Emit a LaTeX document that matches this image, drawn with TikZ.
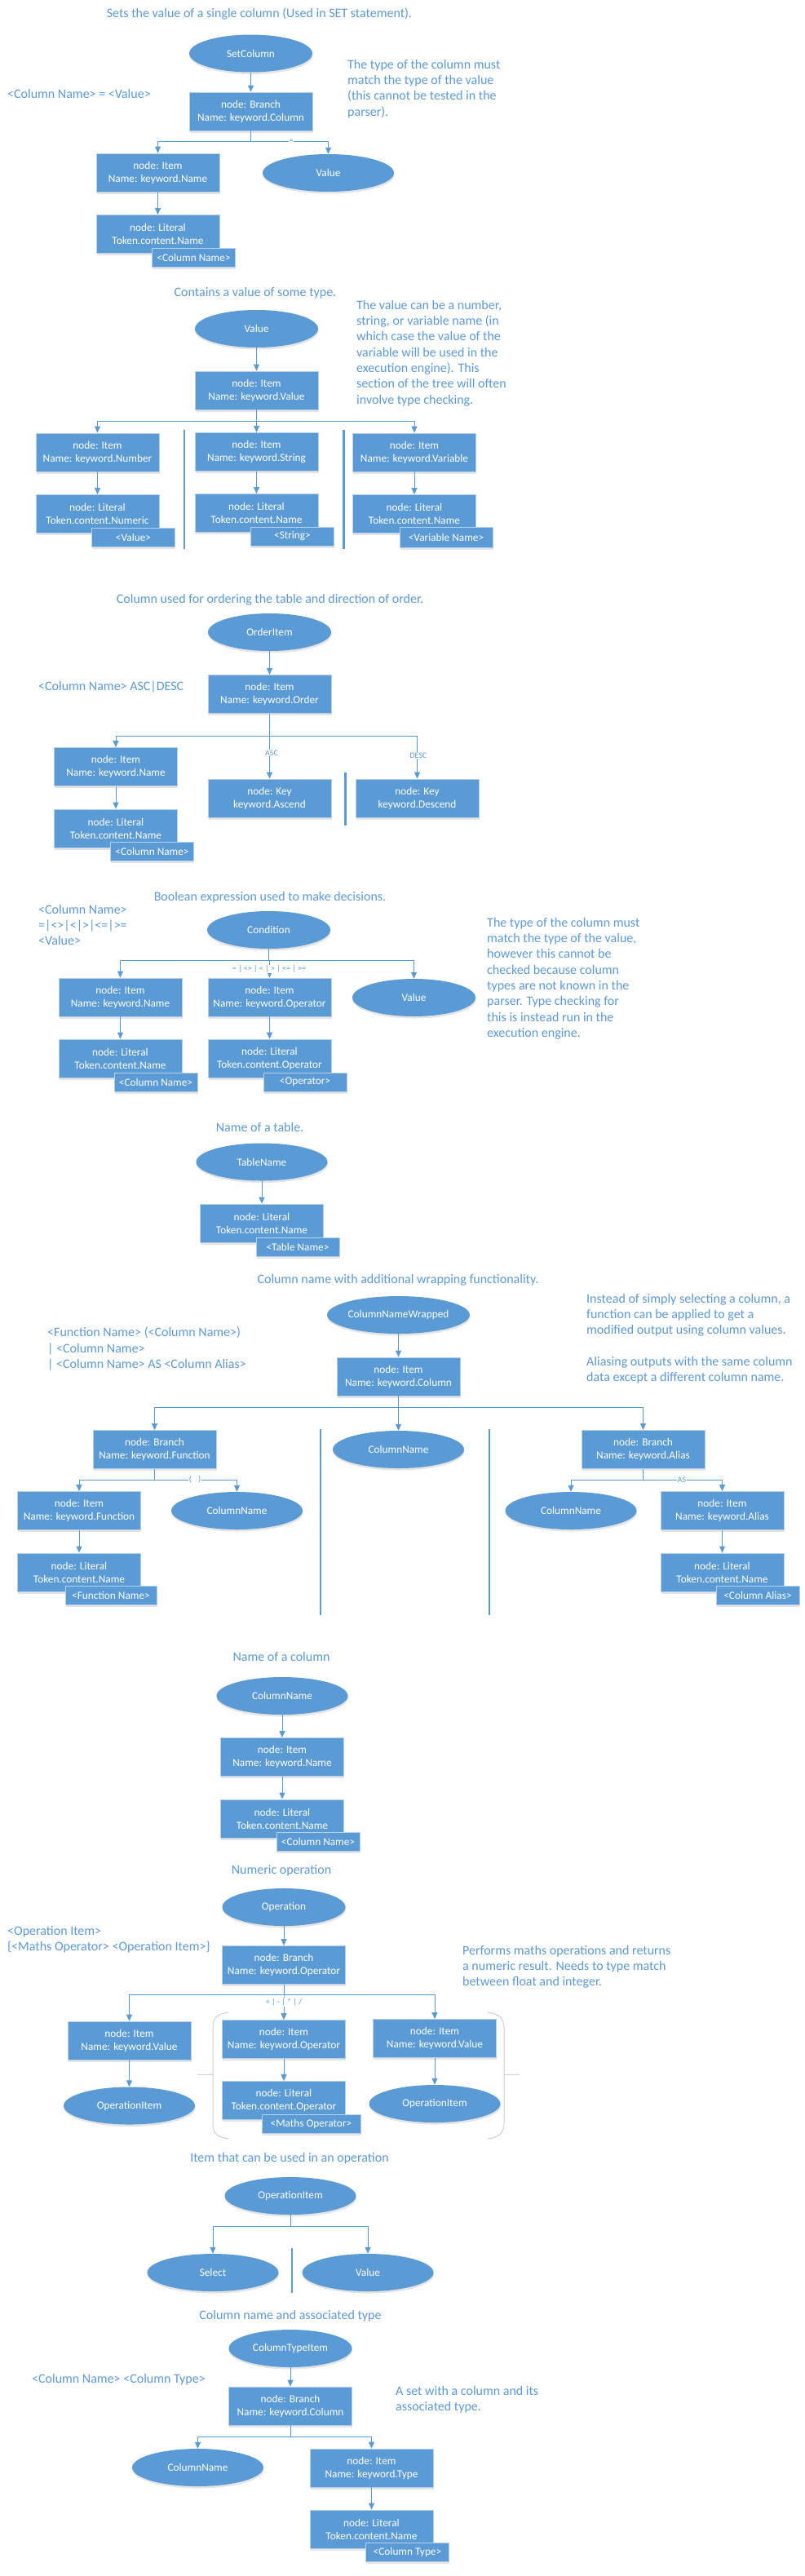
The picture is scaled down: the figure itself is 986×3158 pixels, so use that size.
\documentclass[tikz,border=0pt]{standalone}
\usepackage{fontspec}
\setmainfont{Carlito}
\usetikzlibrary{shapes.geometric,arrows.meta,shadows}
\definecolor{nodeblue}{HTML}{5B9BD5}
\definecolor{nodeborder}{HTML}{B7CFE8}
\definecolor{lineblue}{HTML}{5B9BD5}
\definecolor{noteblue}{HTML}{5E9AD8}
\definecolor{brkgray}{HTML}{CFCFCF}
\newcommand\NodeFont{\fontsize{13.3}{16}\selectfont}
\newcommand\NoteFont{\fontsize{16}{19.3}\selectfont}
\newcommand\LblFont{\fontsize{10}{12}\selectfont}
\newcommand\BusArr[3]{\draw[arr] (#1.south) |- (#2.north |- 0,#3) -- (#2.north);}
\tikzset{
  shad/.style={drop shadow={shadow xshift=0.6pt, shadow yshift=-2.5pt, fill=black!30, opacity=0.35}},
  box/.style={rectangle, fill=nodeblue, draw=nodeborder, line width=0.8pt, minimum width=151, minimum height=47, inner sep=0pt, text=white, font=\NodeFont, align=center, shad},
  ell/.style={ellipse, fill=nodeblue, draw=none, minimum width=151, minimum height=46, inner sep=0pt, text=white, font=\NodeFont, shad},
  wide/.style={minimum width=161},
  tagbox/.style={rectangle, fill=nodeblue, draw=nodeborder, line width=0.8pt, minimum width=102, minimum height=23, inner sep=0pt, text=white, font=\NodeFont, shad},
  arr/.style={draw=lineblue, line width=1pt, -{Triangle[length=8pt,width=7pt]}},
  sepline/.style={draw=lineblue, line width=2.2pt},
  brk/.style={draw=brkgray, line width=1pt},
  note/.style={text=noteblue, font=\NoteFont, align=left, inner sep=0pt, anchor=north west},
  ttl/.style={text=noteblue, font=\NoteFont, inner sep=0pt},
  lbl/.style={text=lineblue, font=\LblFont, fill=white, inner sep=1pt},
}
\begin{document}
\begin{tikzpicture}[x=1pt,y=-1pt]
\useasboundingbox[fill=white] (0,0) rectangle (986,3158);

% ===== Section 1: SetColumn =====
\node[ttl] (t1) at (318,17) {Sets the value of a single column (Used in SET statement).};
\node[ell] (setcol) at (307.5,65.5) {SetColumn};
\node[box] (s1br) at (307.5,136.5) {node: Branch\\Name: keyword.Column};
\node[ttl, anchor=west] (g1) at (9,115) {<Column Name> = <Value>};
\node[note] (n1) at (426,73) {The type of the column must\\match the type of the value\\(this cannot be tested in the\\parser).};
\node[box] (s1item) at (193.5,211.5) {node: Item\\Name: keyword.Name};
\node[ell, wide] (s1val) at (402.5,212) {Value};
\node[box] (s1lit) at (193.5,287) {node: Literal\\Token.content.Name};
\node[tagbox] (s1tag) at (237.5,316) {<Column Name>};
\draw[arr] (setcol.south) -- (s1br.north);
\BusArr{s1br}{s1item}{173}
\BusArr{s1br}{s1val}{173}
\draw[arr] (s1item.south) -- (s1lit.north);
\node[lbl] (l1) at (357,173) {=};

% ===== Section 2: Value =====
\node[ttl] (t2) at (313,359) {Contains a value of some type.};
\node[ell] (v2) at (314.5,403) {Value};
\node[note] (n2) at (437,368) {The value can be a number,\\string, or variable name (in\\which case the value of the\\variable will be used in the\\execution engine). This\\section of the tree will often\\involve type checking.};
\node[box] (v2item) at (314.5,478.5) {node: Item\\Name: keyword.Value};
\node[box] (v2num) at (119.5,554.5) {node: Item\\Name: keyword.Number};
\node[box] (v2str) at (314.5,554) {node: Item\\Name: keyword.String};
\node[box] (v2var) at (508,554.5) {node: Item\\Name: keyword.Variable};
\node[box] (v2numlit) at (119.5,630) {node: Literal\\Token.content.Numeric};
\node[box] (v2strlit) at (314.5,629) {node: Literal\\Token.content.Name};
\node[box] (v2varlit) at (508,630) {node: Literal\\Token.content.Name};
\node[tagbox] (v2numtag) at (163.5,658.5) {<Value>};
\node[tagbox] (v2strtag) at (358.5,657.5) {<String>};
\node[tagbox, minimum width=114, minimum height=25] (v2vartag) at (547,658.5) {<Variable Name>};
\draw[arr] (v2.south) -- (v2item.north);
\BusArr{v2item}{v2num}{516}
\BusArr{v2item}{v2str}{516}
\BusArr{v2item}{v2var}{516}
\draw[arr] (v2num.south) -- (v2numlit.north);
\draw[arr] (v2str.south) -- (v2strlit.north);
\draw[arr] (v2var.south) -- (v2varlit.north);
\draw[sepline] (225.6,527) -- (225.6,673);
\draw[sepline] (421.5,527) -- (421.5,673);

% ===== Section 3: OrderItem =====
\node[ttl] (t3) at (331,735) {Column used for ordering the table and direction of order.};
\node[ell] (oi) at (330.5,775) {OrderItem};
\node[ttl, anchor=west] (g3) at (47,842) {<Column Name> ASC|DESC};
\node[box] (oiitem) at (330.5,851) {node: Item\\Name: keyword.Order};
\node[box] (oiname) at (142,940) {node: Item\\Name: keyword.Name};
\node[box] (oilit) at (142,1015.5) {node: Literal\\Token.content.Name};
\node[tagbox] (oitag) at (186.5,1044) {<Column Name>};
\node[box] (oiasc) at (330.5,978.5) {node: Key\\keyword.Ascend};
\node[box] (oidesc) at (511.5,978.5) {node: Key\\keyword.Descend};
\draw[arr] (oi.south) -- (oiitem.north);
\BusArr{oiitem}{oiname}{902}
\BusArr{oiitem}{oiasc}{902}
\BusArr{oiitem}{oidesc}{902}
\draw[arr] (oiname.south) -- (oilit.north);
\node[lbl] (lasc) at (333,923) {ASC};
\node[lbl] (ldesc) at (513,926) {DESC};
\draw[sepline] (423.5,947) -- (423.5,1012);

% ===== Section 4: Condition =====
\node[ttl] (t4) at (331,1100) {Boolean expression used to make decisions.};
\node[note] (g4) at (47,1109) {<Column Name>\\=|<>|<|>|<=|>=\\<Value>};
\node[ell] (cond) at (329.5,1140) {Condition};
\node[note] (n4) at (597,1125) {The type of the column must\\match the type of the value,\\however this cannot be\\checked because column\\types are not known in the\\parser. Type checking for\\this is instead run in the\\execution engine.};
\node[box] (cname) at (147.5,1222.5) {node: Item\\Name: keyword.Name};
\node[box] (cop) at (330.5,1222.5) {node: Item\\Name: keyword.Operator};
\node[ell] (cval) at (507.5,1223) {Value};
\node[box] (cnamelit) at (147.5,1297.5) {node: Literal\\Token.content.Name};
\node[tagbox] (cnametag) at (191,1326.5) {<Column Name>};
\node[box] (coplit) at (330.5,1297.5) {node: Literal\\Token.content.Operator};
\node[tagbox] (coptag) at (374,1326.5) {<Operator>};
\BusArr{cond}{cname}{1177}
\BusArr{cond}{cop}{1177}
\BusArr{cond}{cval}{1177}
\draw[arr] (cname.south) -- (cnamelit.north);
\draw[arr] (cop.south) -- (coplit.north);
\node[lbl] (lcond) at (330,1188) {= | <> | < | > | <= | >=};

% ===== Section 5: TableName =====
\node[ttl] (t5) at (318.5,1382) {Name of a table.};
\node[ell, wide] (tn) at (321,1424.5) {TableName};
\node[box] (tnlit) at (321,1499.5) {node: Literal\\Token.content.Name};
\node[tagbox] (tntag) at (365,1528.5) {<Table Name>};
\draw[arr] (tn.south) -- (tnlit.north);

% ===== Section 6: ColumnNameWrapped =====
\node[ttl] (t6) at (488,1569) {Column name with additional wrapping functionality.};
\node[ell, wide] (cnw) at (488.5,1612) {ColumnNameWrapped};
\node[note] (n6) at (719,1586) {Instead of simply selecting a column, a\\function can be applied to get a\\modified output using column values.\\[19.3pt]Aliasing outputs with the same column\\data except a different column name.};
\node[note] (g6) at (58,1627) {<Function Name> (<Column Name>)\\| <Column Name>\\| <Column Name> AS <Column Alias>};
\node[box] (cnwitem) at (488.5,1687.5) {node: Item\\Name: keyword.Column};
\node[box] (fbr) at (189.5,1777) {node: Branch\\Name: keyword.Function};
\node[ell, wide] (cn6) at (488.5,1777) {ColumnName};
\node[box] (abr) at (788.5,1777) {node: Branch\\Name: keyword.Alias};
\draw[arr] (cnw.south) -- (cnwitem.north);
\BusArr{cnwitem}{fbr}{1725}
\BusArr{cnwitem}{cn6}{1725}
\BusArr{cnwitem}{abr}{1725}
\draw[sepline] (393,1752) -- (393,1980);
\draw[sepline] (600,1752) -- (600,1980);
\node[box] (fitem) at (97,1852) {node: Item\\Name: keyword.Function};
\node[ell, wide] (fcn) at (290.5,1852) {ColumnName};
\node[box] (flit) at (97,1927.5) {node: Literal\\Token.content.Name};
\node[tagbox, minimum width=112] (ftag) at (136,1956) {<Function Name>};
\BusArr{fbr}{fitem}{1814}
\BusArr{fbr}{fcn}{1814}
\draw[arr] (fitem.south) -- (flit.north);
\node[lbl] (lfn) at (239,1814) {(\hspace{8pt})};
\node[ell, wide] (acn) at (700,1852) {ColumnName};
\node[box] (aitem) at (885.5,1852) {node: Item\\Name: keyword.Alias};
\node[box] (alit) at (885.5,1927.5) {node: Literal\\Token.content.Name};
\node[tagbox] (atag) at (929,1956) {<Column Alias>};
\BusArr{abr}{acn}{1814}
\BusArr{abr}{aitem}{1814}
\draw[arr] (aitem.south) -- (alit.north);
\node[lbl] (las) at (836,1814) {AS};

% ===== Section 7: ColumnName =====
\node[ttl] (t7) at (345,2031) {Name of a column};
\node[ell, wide] (cn7) at (346,2079) {ColumnName};
\node[box] (cn7item) at (346,2154) {node: Item\\Name: keyword.Name};
\node[box] (cn7lit) at (346,2229.5) {node: Literal\\Token.content.Name};
\node[tagbox] (cn7tag) at (390,2258) {<Column Name>};
\draw[arr] (cn7.south) -- (cn7item.north);
\draw[arr] (cn7item.south) -- (cn7lit.north);

% ===== Section 8: Operation =====
\node[ttl] (t8) at (345,2293) {Numeric operation};
\node[ell] (op) at (348,2338) {Operation};
\node[note] (g8) at (9,2361) {<Operation Item>\\\{<Maths Operator> <Operation Item>\}};
\node[box] (opbr) at (348,2409) {node: Branch\\Name: keyword.Operator};
\node[note] (n8) at (567,2385) {Performs maths operations and returns\\a numeric result. Needs to type match\\between float and integer.};
\draw[brk] (280,2467) .. controls (266,2469) and (261,2474) .. (261,2486) -- (261,2603) .. controls (261,2615) and (266,2620) .. (280,2622);
\draw[brk] (242,2543) -- (261,2543);
\draw[brk] (598,2467) .. controls (612,2469) and (618,2474) .. (618,2486) -- (618,2603) .. controls (618,2615) and (612,2620) .. (598,2622);
\draw[brk] (618,2543) -- (637,2543);
\node[box] (opv1) at (158.5,2501.5) {node: Item\\Name: keyword.Value};
\node[box] (opop) at (348,2500) {node: Item\\Name: keyword.Operator};
\node[box] (opv2) at (533,2499) {node: Item\\Name: keyword.Value};
\node[ell, wide] (opi1) at (158.5,2581.5) {OperationItem};
\node[box] (oplit) at (348,2575) {node: Literal\\Token.content.Operator};
\node[tagbox, minimum width=121] (optag) at (381.5,2603.5) {<Maths Operator>};
\node[ell, wide] (opi2) at (533,2579) {OperationItem};
\draw[arr] (op.south) -- (opbr.north);
\BusArr{opbr}{opv1}{2445}
\BusArr{opbr}{opop}{2445}
\BusArr{opbr}{opv2}{2445}
\draw[arr] (opv1.south) -- (opi1.north);
\draw[arr] (opop.south) -- (oplit.north);
\draw[arr] (opv2.south) -- (opi2.north);
\node[lbl] (lop) at (348,2455) {+ | - | * | /};

% ===== Section 9: OperationItem =====
\node[ttl] (t9) at (355,2646) {Item that can be used in an operation};
\node[ell, wide] (oi9) at (356,2692) {OperationItem};
\node[ell, wide] (sel) at (261,2786) {Select};
\node[ell, wide] (val9) at (451,2786) {Value};
\BusArr{oi9}{sel}{2729}
\BusArr{oi9}{val9}{2729}
\draw[sepline] (358,2756) -- (358,2811);

% ===== Section 10: ColumnTypeItem =====
\node[ttl] (t10) at (356,2839) {Column name and associated type};
\node[ell] (cti) at (356,2879) {ColumnTypeItem};
\node[ttl, anchor=west] (g10) at (39,2917) {<Column Name> <Column Type>};
\node[box] (ctibr) at (356,2949.5) {node: Branch\\Name: keyword.Column};
\node[note] (n10) at (485,2925) {A set with a column and its\\associated type.};
\node[ell, wide] (ctcn) at (242.5,3025) {ColumnName};
\node[box] (cttype) at (455.5,3025.5) {node: Item\\Name: keyword.Type};
\node[box] (ctlit) at (455.5,3100.5) {node: Literal\\Token.content.Name};
\node[tagbox] (cttag) at (499.5,3129) {<Column Type>};
\draw[arr] (cti.south) -- (ctibr.north);
\BusArr{ctibr}{ctcn}{2987}
\BusArr{ctibr}{cttype}{2987}
\draw[arr] (cttype.south) -- (ctlit.north);
\end{tikzpicture}
\end{document}
